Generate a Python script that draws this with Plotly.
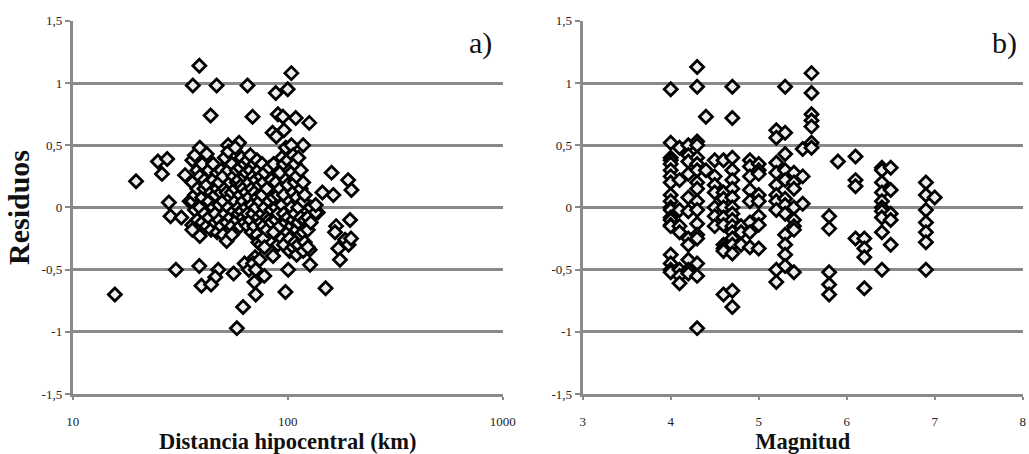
import plotly.graph_objects as go

# ---------------- Panel a) : hypocentral distance (km) vs residual ----------------
dist_outliers = [15.7, 19.7, 24.9, 27.5, 26.0, 28.0, 28.5, 30.2, 33.3, 32.0, 35.0, 36.2, 38.8,
                 38.8, 39.7, 43.8, 46.7, 47.5, 46.0, 52.8, 59.4, 56.0, 58.0, 62.0, 65.0, 68.6,
                 71.0, 70.0, 70.5, 77.8, 88.0, 85.0, 88.5, 90.0, 95.0, 100.0, 104.0, 96.0,
                 97.6, 100.5, 85.5, 109.0, 126.0, 118.0, 150.0, 160.0, 163.0, 145.0, 191.0,
                 198.0, 195.0, 168.0, 166.0, 172.0, 175.0, 185.0, 192.0, 197.0, 138.0, 127.0,
                 126.5]
res_outliers = [-0.70, 0.21, 0.37, 0.39, 0.27, 0.04, -0.07, -0.50, 0.26, -0.08, 0.05, 0.98, 1.14,
                -0.47, -0.63, 0.74, 0.98, -0.50, -0.56, 0.50, 0.52, -0.53, -0.97, -0.80, 0.98, 0.73,
                -0.70, -0.60, -0.40, -0.55, 0.92, 0.60, 0.57, 0.75, 0.73, 0.95, 1.08, 0.62,
                -0.68, -0.50, -0.39, 0.72, 0.68, 0.50, -0.65, 0.28, 0.10, 0.12, 0.22,
                0.14, -0.10, -0.15, -0.20, -0.33, -0.42, -0.26, -0.30, -0.25, -0.04, -0.46,
                -0.34]

dist_cluster = [36, 36, 36, 36, 36, 37, 37, 37, 38, 38, 38, 39, 39, 39, 39, 40, 40, 40,
                41, 41, 41, 42, 42, 42, 43, 43, 43, 44, 44, 44, 45, 45, 45, 46, 46, 46,
                47, 47, 47, 48, 48, 48, 49, 49, 49, 50, 50, 50, 51, 51, 51, 52, 52, 52,
                53, 53, 53, 54, 54, 54, 55, 55, 55, 55, 56, 56, 57, 57, 57, 58, 58, 58,
                59, 59, 59, 60, 60, 60, 61, 61, 61, 62, 62, 62, 63, 63, 63, 63, 64, 64, 64,
                65, 65, 65, 66, 66, 66, 67, 67, 67, 68, 68, 68, 69, 69, 69, 70, 70, 70,
                71, 71, 71, 72, 72, 72, 73, 73, 73, 74, 74, 74, 75, 75, 75, 76, 76, 76,
                77, 77, 77, 78, 78, 78, 80, 80, 80, 82, 82, 82, 84, 84, 84, 86, 86, 86,
                88, 88, 88, 90, 90, 90, 92, 92, 92, 94, 94, 94, 96, 96, 96, 96, 98, 98, 98,
                100, 100, 100, 100, 102, 102, 102, 102, 104, 104, 104, 104, 106, 106, 106, 106,
                108, 108, 108, 108, 110, 110, 110, 110, 112, 112, 112, 112, 115, 115, 115, 115,
                118, 118, 118, 118, 120, 120, 120, 124, 124, 124, 128, 128, 135, 135]
res_cluster = [0.38, 0.20, 0.05, -0.14, -0.18, 0.42, 0.10, -0.02, 0.30, 0.15, -0.10,
               0.48, 0.25, 0.00, -0.23, 0.35, 0.08, -0.12, 0.22, 0.15, -0.05, 0.43, 0.18, -0.15,
               0.30, 0.05, -0.08, 0.12, -0.18, -0.62, 0.35, 0.22, 0.00, 0.10, -0.12, -0.05,
               0.28, 0.15, -0.20, 0.20, 0.02, -0.10, 0.30, 0.12, -0.15, 0.25, 0.05, -0.22,
               0.40, 0.15, -0.05, 0.12, -0.12, -0.27, 0.45, 0.30, 0.00, 0.20, 0.08, -0.08,
               0.35, 0.12, -0.15, -0.22, 0.25, -0.03, 0.48, 0.15, 0.05, 0.30, 0.20, -0.10,
               0.22, 0.00, -0.05, 0.32, 0.10, -0.15, 0.40, 0.18, -0.03, 0.15, 0.05, -0.08,
               0.35, 0.25, -0.12, -0.45, 0.28, 0.12, 0.00, 0.38, -0.05, -0.15, 0.20, 0.08, -0.50,
               0.42, 0.30, -0.10, 0.15, 0.02, -0.20, 0.25, -0.05, -0.45, 0.35, 0.12, -0.15,
               0.22, 0.00, -0.50, 0.38, 0.08, -0.22, 0.30, -0.08, -0.28, 0.18, 0.05, -0.42,
               0.25, -0.12, -0.30, 0.35, 0.10, -0.05, 0.20, -0.15, -0.25, 0.28, 0.00, -0.32,
               0.15, -0.08, -0.18, 0.32, 0.05, -0.10, 0.22, -0.02, -0.12, 0.35, 0.08, -0.20,
               0.20, 0.00, -0.10, 0.10, -0.05, -0.30, 0.28, 0.15, -0.15, 0.40, 0.02, -0.25,
               0.35, 0.10, -0.05, -0.30, 0.48, 0.22, -0.12,
               0.38, 0.18, -0.08, -0.20, 0.30, 0.05, -0.25, -0.35, 0.50, 0.28, 0.00, -0.15,
               0.42, 0.12, -0.10, -0.32, 0.35, 0.20, -0.05, -0.28, 0.25, 0.08, -0.18, -0.38,
               0.40, 0.00, -0.12, -0.30, 0.30, 0.15, -0.08, -0.22, 0.20, 0.05, -0.20, -0.35,
               0.10, -0.10, -0.28, -0.08, -0.18, -0.32, 0.00, -0.12, -0.04, 0.02]

dist_km = dist_outliers + dist_cluster
res_a = res_outliers + res_cluster

# ---------------- Panel b) : magnitude vs residual ----------------
mag_columns = {
    4.0: [0.95, 0.52, 0.40, 0.38, 0.35, 0.30, 0.25, 0.20, 0.10, 0.05, 0.00, -0.02, -0.08, -0.10,
          -0.14, -0.15, -0.38, -0.45, -0.50, -0.52],
    4.1: [0.48, 0.22, -0.02, -0.15, -0.20, -0.50, -0.55, -0.61],
    4.2: [0.50, 0.42, 0.37, 0.27, 0.08, -0.03, -0.25, -0.30, -0.42, -0.50, -0.53],
    4.3: [1.13, 0.97, 0.53, 0.50, 0.40, 0.35, 0.30, 0.20, 0.15, 0.05, -0.02, -0.13, -0.22, -0.25,
          -0.45, -0.55, -0.97],
    4.4: [0.73, 0.30],
    4.5: [0.38, 0.25, 0.18, 0.12, 0.00, -0.07, -0.15],
    4.6: [0.38, 0.12, 0.07, 0.00, -0.08, -0.14, -0.30, -0.33, -0.35, -0.70],
    4.7: [0.97, 0.72, 0.40, 0.30, 0.22, 0.15, 0.08, 0.00, -0.05, -0.10, -0.15, -0.20, -0.25, -0.30,
          -0.37, -0.67, -0.80],
    4.8: [-0.15, -0.20, -0.30],
    4.9: [0.38, 0.33, 0.25, 0.14, 0.05, -0.12, -0.20, -0.32],
    5.0: [0.35, 0.30, 0.27, 0.10, 0.05, -0.07, -0.14, -0.33],
    5.2: [0.62, 0.56, 0.36, 0.28, 0.18, 0.10, 0.05, -0.02, -0.50, -0.60],
    5.3: [0.97, 0.60, 0.43, 0.30, 0.22, 0.07, 0.02, -0.05, -0.22, -0.30, -0.38, -0.47],
    5.4: [0.28, 0.20, 0.15, 0.00, -0.10, -0.15, -0.18, -0.52],
    5.5: [0.47, 0.25, 0.03],
    5.6: [1.08, 0.92, 0.75, 0.70, 0.65, 0.52, 0.48],
    5.8: [-0.07, -0.17, -0.52, -0.62, -0.70],
    5.9: [0.37],
    6.1: [0.41, 0.22, 0.17, -0.25],
    6.2: [-0.25, -0.33, -0.40, -0.65],
    6.4: [0.32, 0.30, 0.20, 0.12, 0.05, 0.00, -0.03, -0.08, -0.20, -0.50],
    6.5: [0.32, 0.14, -0.05, -0.10, -0.30],
    6.9: [0.20, 0.10, -0.02, -0.12, -0.20, -0.28, -0.50],
    7.0: [0.08],
}
magnitud = [m for m, vals in mag_columns.items() for _ in vals]
res_b = [v for vals in mag_columns.values() for v in vals]

y_tickvals = [-1.5, -1, -0.5, 0, 0.5, 1, 1.5]
y_ticktext = ["-1,5", "-1", "-0,5", "0", "0,5", "1", "1,5"]
xa_tickvals = [10, 100, 1000]
xa_ticktext = ["10", "100", "1000"]
xb_tickvals = [3, 4, 5, 6, 7, 8]
xb_ticktext = ["3", "4", "5", "6", "7", "8"]

GRID = "#8a8a8a"
FONT = "Liberation Serif"
TICKFONT = dict(family=FONT, size=13, color="#222222")

marker = dict(symbol="diamond", size=10, color="#ececec", line=dict(color="black", width=2.8))

fig = go.Figure()
fig.add_trace(go.Scatter(x=dist_km, y=res_a, mode="markers", marker=marker,
                         xaxis="x", yaxis="y", showlegend=False))
fig.add_trace(go.Scatter(x=magnitud, y=res_b, mode="markers", marker=marker,
                         xaxis="x2", yaxis="y2", showlegend=False))

fig.update_layout(
    template="none",
    width=1029, height=454,
    margin=dict(l=0, r=0, t=0, b=0),
    paper_bgcolor="white", plot_bgcolor="white",
    font=dict(family=FONT, size=13, color="#222222"),
    xaxis=dict(domain=[0.0707, 0.4885], type="log", range=[1, 3], anchor="y",
               tickmode="array", tickvals=xa_tickvals, ticktext=xa_ticktext,
               title=dict(text="<b>Distancia hipocentral (km)</b>",
                          font=dict(family=FONT, size=22.5, color="#111111"), standoff=12)),
    yaxis=dict(domain=[0.132, 0.954], anchor="x", range=[-1.5, 1.5],
               title=dict(text="<b>Residuos</b>", font=dict(family=FONT, size=30, color="#111111"),
                          standoff=4)),
    xaxis2=dict(domain=[0.5663, 0.9939], range=[3, 8], anchor="y2",
                tickmode="array", tickvals=xb_tickvals, ticktext=xb_ticktext,
                title=dict(text="<b>Magnitud</b>", font=dict(family=FONT, size=22.5, color="#111111"),
                           standoff=12)),
    yaxis2=dict(domain=[0.132, 0.954], anchor="x2", range=[-1.5, 1.5]),
    annotations=[
        dict(text="a)", x=0.4805, y=0.905, xref="paper", yref="paper", xanchor="right",
             yanchor="middle", showarrow=False, font=dict(family=FONT, size=30, color="#111111")),
        dict(text="b)", x=0.9905, y=0.905, xref="paper", yref="paper", xanchor="right",
             yanchor="middle", showarrow=False, font=dict(family=FONT, size=30, color="#111111")),
    ],
)

fig.update_yaxes(tickmode="array", tickvals=y_tickvals, ticktext=y_ticktext,
                 showgrid=True, gridcolor=GRID, gridwidth=3, zeroline=False,
                 showline=True, linecolor=GRID, linewidth=3,
                 ticks="outside", ticklen=5, tickwidth=2, tickcolor=GRID,
                 tickfont=TICKFONT)
fig.update_xaxes(showgrid=False, zeroline=False, showline=True, linecolor=GRID, linewidth=3,
                 ticks="outside", ticklen=3, tickwidth=2, tickcolor=GRID, ticklabelstandoff=10,
                 tickfont=TICKFONT)

fig.write_html("out.html")
